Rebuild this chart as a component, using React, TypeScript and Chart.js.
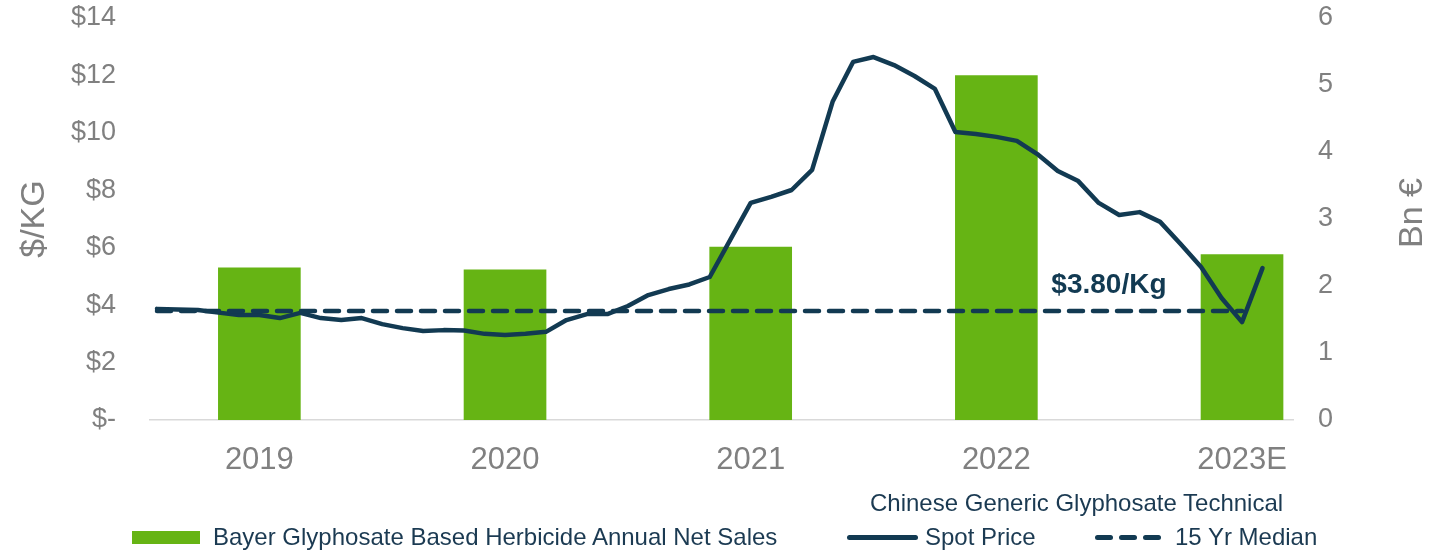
import React, { useEffect, useRef } from 'react';
import { Chart, registerables } from 'chart.js';

Chart.register(...registerables);

// ---------- data ----------
const years = ['2019', '2020', '2021', '2022', '2023E'];
const barMonthIndex = [5, 17, 29, 41, 53];
const netSalesBnEur = [2.27, 2.24, 2.58, 5.14, 2.47];

// monthly Chinese generic glyphosate technical spot price, Jan 2019 .. Jul 2023 ($/KG)
const spotPrice = [
  3.87, 3.85, 3.83, 3.74, 3.66, 3.66, 3.55, 3.73, 3.55, 3.48, 3.55, 3.34,
  3.2, 3.1, 3.13, 3.12, 3.0, 2.96, 3.0, 3.07, 3.48, 3.69, 3.69, 3.97,
  4.35, 4.56, 4.72, 4.98, 6.27, 7.56, 7.77, 8.01, 8.71, 11.08, 12.47, 12.64,
  12.36, 11.98, 11.53, 10.03, 9.96, 9.86, 9.72, 9.26, 8.67, 8.32, 7.56, 7.14,
  7.24, 6.9, 6.13, 5.33, 4.25, 3.41, 5.29,
];

const medianValue = 3.8;
const medianFromMonth = 0;
const medianToMonth = 53;
const medianLabel = '$3.80/Kg';
const medianLabelMonth = 46.5;

const leftAxisTitle = '$/KG';
const rightAxisTitle = 'Bn €';
const legendBars = 'Bayer Glyphosate Based Herbicide Annual Net Sales';
const legendSpotHeader = 'Chinese Generic Glyphosate Technical';
const legendSpot = 'Spot Price';
const legendMedian = '15 Yr Median';

// ---------- styles ----------
const FONT = "'Liberation Sans', Arial, Helvetica, sans-serif";
const GREEN = '#66B414';
const NAVY = '#123A52';
const TEXT_NAVY = '#1B3A52';
const GREY = '#808080';

const axisTitlePlugin = {
  id: 'axisTitles',
  afterDraw(chart: any) {
    const { ctx, chartArea } = chart;
    const midY = (chartArea.top + chartArea.bottom) / 2;
    ctx.save();
    ctx.fillStyle = GREY;
    ctx.font = `34px ${FONT}`;
    ctx.textAlign = 'center';
    ctx.textBaseline = 'middle';
    ctx.translate(35, midY);
    ctx.rotate(-Math.PI / 2);
    ctx.fillText(leftAxisTitle, 0, 0);
    ctx.restore();
    ctx.save();
    ctx.fillStyle = GREY;
    ctx.font = `34px ${FONT}`;
    ctx.textAlign = 'center';
    ctx.textBaseline = 'middle';
    ctx.translate(chart.width - 27, midY - 6);
    ctx.rotate(-Math.PI / 2);
    ctx.fillText(rightAxisTitle, 0, 0);
    ctx.restore();
  },
};

const medianLabelPlugin = {
  id: 'medianLabel',
  afterDatasetsDraw(chart: any) {
    const { ctx } = chart;
    const x = chart.scales.x.getPixelForValue(medianLabelMonth);
    const y = chart.scales.y.getPixelForValue(medianValue) - 26;
    ctx.save();
    ctx.fillStyle = NAVY;
    ctx.font = `bold 28px ${FONT}`;
    ctx.textAlign = 'center';
    ctx.textBaseline = 'middle';
    ctx.fillText(medianLabel, x, y);
    ctx.restore();
  },
};

export default function App() {
  const canvasRef = useRef<HTMLCanvasElement | null>(null);

  useEffect(() => {
    document.body.style.margin = '0';
    if (!canvasRef.current) return;
    const chart = new Chart(canvasRef.current, {
      type: 'bar',
      data: {
        datasets: [
          {
            type: 'line',
            label: legendMedian,
            data: [
              { x: medianFromMonth, y: medianValue },
              { x: medianToMonth, y: medianValue },
            ],
            yAxisID: 'y',
            borderColor: NAVY,
            borderWidth: 4.5,
            borderDash: [14, 10],
            borderCapStyle: 'round',
            pointRadius: 0,
            fill: false,
            order: 0,
          } as any,
          {
            type: 'line',
            label: legendSpot,
            data: spotPrice.map((v, i) => ({ x: i, y: v })),
            yAxisID: 'y',
            borderColor: NAVY,
            borderWidth: 4.5,
            borderJoinStyle: 'round',
            borderCapStyle: 'round',
            pointRadius: 0,
            tension: 0,
            fill: false,
            order: 1,
          } as any,
          {
            type: 'bar',
            label: legendBars,
            data: netSalesBnEur.map((v, i) => ({ x: barMonthIndex[i], y: v })),
            yAxisID: 'y1',
            backgroundColor: GREEN,
            borderWidth: 0,
            barThickness: 82,
            order: 2,
          } as any,
        ],
      },
      options: {
        animation: false,
        responsive: true,
        maintainAspectRatio: false,
        layout: { padding: { top: 18, left: 0, right: 0, bottom: 0 } },
        plugins: {
          legend: { display: false },
          tooltip: { enabled: false },
        },
        scales: {
          x: {
            type: 'linear',
            min: -0.342,
            max: 55.49,
            offset: false,
            grid: { display: false, drawTicks: false },
            border: { display: true, color: '#D9D9D9', width: 1.5 },
            afterBuildTicks: (scale: any) => {
              scale.ticks = barMonthIndex.map((v) => ({ value: v }));
            },
            afterFit: (scale: any) => {
              scale.height = 132;
              scale.paddingLeft = 0;
              scale.paddingRight = 0;
            },
            ticks: {
              autoSkip: false,
              maxRotation: 0,
              padding: 22,
              color: GREY,
              font: { family: FONT, size: 31 },
              callback: (value: any) => {
                const k = barMonthIndex.indexOf(Number(value));
                return k >= 0 ? years[k] : '';
              },
            },
          },
          y: {
            type: 'linear',
            position: 'left',
            min: 0,
            max: 14,
            grid: { display: false, drawTicks: false },
            border: { display: false },
            afterFit: (scale: any) => {
              scale.width = 150;
              scale.paddingTop = 0;
              scale.paddingBottom = 0;
            },
            ticks: {
              stepSize: 2,
              padding: 34,
              color: GREY,
              font: { family: FONT, size: 27 },
              callback: (value: any) => (Number(value) === 0 ? '$-' : '$' + value),
            },
          },
          y1: {
            type: 'linear',
            position: 'right',
            min: 0,
            max: 6,
            grid: { display: false, drawTicks: false },
            border: { display: false },
            afterFit: (scale: any) => {
              scale.width = 147;
              scale.paddingTop = 0;
              scale.paddingBottom = 0;
            },
            ticks: {
              stepSize: 1,
              padding: 25,
              color: GREY,
              font: { family: FONT, size: 27 },
            },
          },
        },
      },
      plugins: [axisTitlePlugin, medianLabelPlugin],
    } as any);
    return () => chart.destroy();
  }, []);

  const textStyle: React.CSSProperties = {
    position: 'absolute',
    fontFamily: FONT,
    fontSize: 24,
    lineHeight: '24px',
    color: TEXT_NAVY,
    whiteSpace: 'nowrap',
  };
  const dash = (left: number): React.CSSProperties => ({
    position: 'absolute',
    left,
    top: 535,
    width: 18,
    height: 5,
    borderRadius: 3,
    background: NAVY,
  });

  return (
    <div style={{ position: 'absolute', left: 0, top: 0, width: 1440, height: 552, background: '#fff' }}>
      <canvas ref={canvasRef} />
      <div style={{ position: 'absolute', left: 132, top: 531, width: 68, height: 13, background: GREEN }} />
      <div style={{ ...textStyle, left: 213, top: 525 }}>{legendBars}</div>
      <div style={{ ...textStyle, left: 870, top: 491 }}>{legendSpotHeader}</div>
      <div style={{ position: 'absolute', left: 847, top: 535, width: 71, height: 5, borderRadius: 3, background: NAVY }} />
      <div style={{ ...textStyle, left: 925, top: 525 }}>{legendSpot}</div>
      <div style={dash(1095)} />
      <div style={dash(1119)} />
      <div style={dash(1143)} />
      <div style={{ ...textStyle, left: 1175, top: 525 }}>{legendMedian}</div>
    </div>
  );
}
